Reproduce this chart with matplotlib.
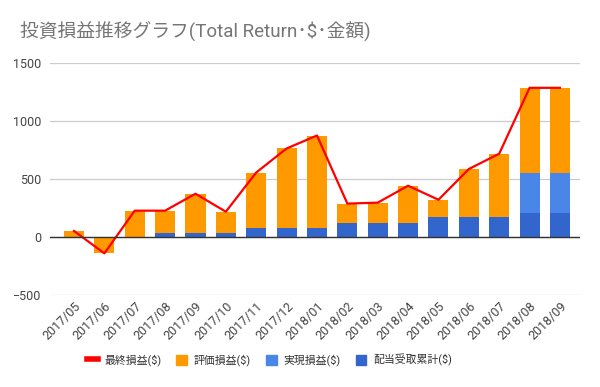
import matplotlib
matplotlib.use("Agg")
import matplotlib.pyplot as plt
import numpy as np
from matplotlib.patches import Patch
from matplotlib.lines import Line2D

plt.rcParams['font.family'] = ['Roboto', 'Noto Sans CJK JP', 'DejaVu Sans']

months = ['2017/05', '2017/06', '2017/07', '2017/08', '2017/09', '2017/10',
          '2017/11', '2017/12', '2018/01', '2018/02', '2018/03', '2018/04',
          '2018/05', '2018/06', '2018/07', '2018/08', '2018/09']
dividends = [0, 0, 0, 37, 37, 37, 80, 80, 80, 123, 123, 123, 169, 169, 169, 209, 209]
realized = [0, 0, 0, 0, 0, 0, 0, 0, 0, 0, 0, 0, 0, 0, 0, 339, 339]
unrealized = [52, -141, 227, 190, 336, 181, 476, 683, 795, 165, 173, 319, 152, 414, 549, 738, 738]
total = [52, -141, 227, 227, 373, 218, 556, 763, 875, 288, 296, 442, 321, 586, 718, 1286, 1286]

dividends = np.array(dividends, dtype=float)
realized = np.array(realized, dtype=float)
unrealized = np.array(unrealized, dtype=float)

x = np.arange(len(months))

fig = plt.figure(figsize=(6, 3.87), dpi=100)
ax = fig.add_axes([50 / 600, 92 / 387, 530 / 600, 232 / 387])

w = 0.66
ax.bar(x, dividends, w, color='#3366CC', zorder=2)
ax.bar(x, realized, w, bottom=dividends, color='#4A86E8', zorder=2)
base = np.where(unrealized < 0, 0, dividends + realized)
ax.bar(x, unrealized, w, bottom=base, color='#FF9900', zorder=2)
ax.plot(x, total, color='#FF0000', lw=1.6, zorder=3)

ax.set_xlim(-0.79, 16.66)
ax.set_ylim(-500, 1500)
ax.set_yticks([-500, 0, 500, 1000, 1500])
ax.yaxis.grid(True, color='#CCCCCC', lw=0.9, zorder=0)
ax.axhline(0, color='#333333', lw=1.0, zorder=4)
for s in ax.spines.values():
    s.set_visible(False)
ax.tick_params(length=0)
ax.tick_params(axis='y', labelsize=9, labelcolor='#444444', pad=6)
ax.set_xticks(x)
ax.set_xticklabels(months, rotation=45, ha='right', rotation_mode='anchor',
                   fontsize=9, color='#444444')

fig.text(20 / 600, 1 - 32 / 387, '投資損益推移グラフ(Total Return･$･金額)',
         fontsize=13.5, color='#757575', va='center', ha='left')

handles = [Line2D([0], [0], color='#FF0000', lw=4),
           Patch(color='#FF9900'), Patch(color='#4A86E8'), Patch(color='#3366CC')]
labels = ['最終損益($)', '評価損益($)', '実現損益($)', '配当受取累計($)']
leg = fig.legend(handles, labels, loc='center left', bbox_to_anchor=(78 / 600, 27 / 387),
                 ncol=4, frameon=False, fontsize=7.8, handlelength=1.0,
                 handleheight=1.0, columnspacing=1.4, handletextpad=0.6,
                 borderpad=0.3)
for t in leg.get_texts():
    t.set_color('#333333')

fig.savefig('out.png', dpi=100)
